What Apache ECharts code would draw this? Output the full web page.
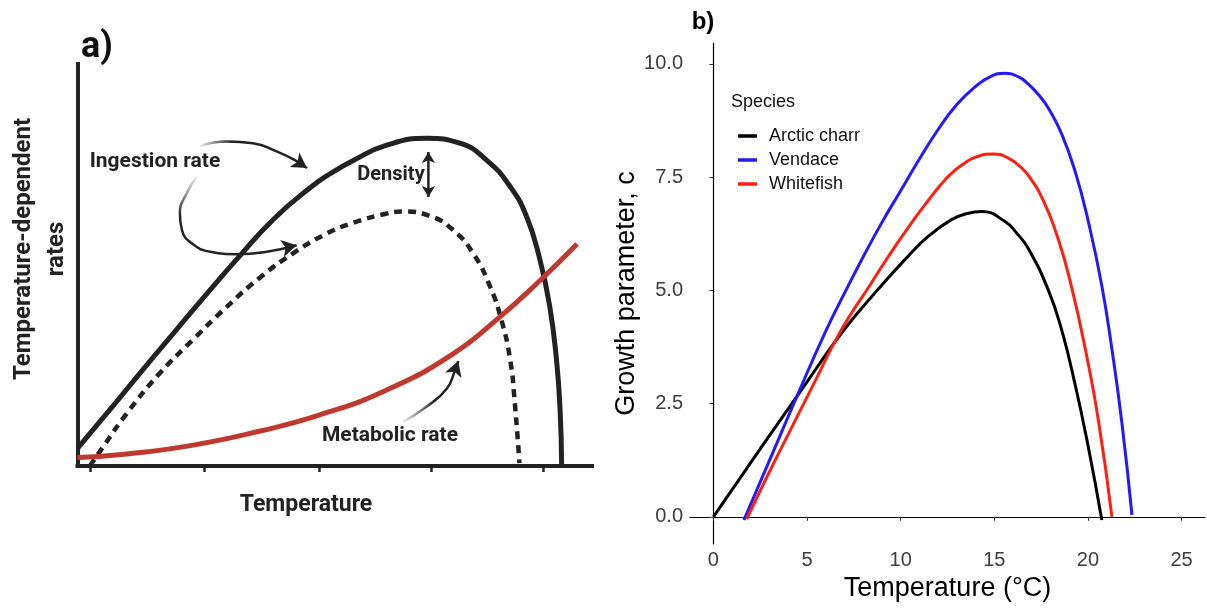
<!DOCTYPE html>
<html><head><meta charset="utf-8">
<script src="https://cdn.jsdelivr.net/npm/echarts@6/dist/echarts.min.js"></script>
<style>html,body{margin:0;padding:0;background:#fff}#c{width:1207px;height:609px}</style>
</head><body><div id="c"></div>
<script>
// ---------- Panel a: conceptual curves (arbitrary units 0-100) ----------
const ingestionX = [0, 6.3, 12.8, 19.3, 25.7, 31.5, 38.1, 45.2, 49.1, 53.6, 60.1, 67.9, 74.3, 79.5, 84.1, 87.3, 89.9, 91.8, 93.1, 93.8, 94.1];
const ingestionY = [4.4, 14.0, 24.1, 34.0, 43.7, 52.2, 61.4, 69.2, 72.7, 76.0, 79.8, 81.5, 80.3, 76.1, 69.5, 62.0, 51.2, 39.6, 26.4, 13.9, 0.3];
const densityX = [2.4, 5.0, 9.6, 16.0, 22.5, 29.0, 35.5, 41.9, 48.4, 53.6, 60.1, 63.3, 68.5, 73.0, 76.9, 80.2, 82.4, 84.1, 85.0, 85.9];
const densityY = [0, 4.8, 13.1, 23.1, 31.5, 39.6, 46.9, 52.9, 57.8, 60.5, 62.8, 63.3, 62.2, 58.7, 52.9, 44.6, 36.3, 26.4, 15.6, 0.7];
const metabolicX = [0, 9.6, 22.5, 35.5, 47.1, 60.1, 73.0, 82.1, 89.3, 97.1];
const metabolicY = [2.1, 3.0, 5.2, 8.7, 12.7, 18.9, 27.9, 37.1, 45.4, 55.2];
// annotation arrows (same units)
const arrow1X = [23.8, 29.1, 34.1, 38.8, 42.5, 44.6];
const arrow1Y = [79.6, 80.7, 80.3, 78.2, 75.9, 74.1];
const arrow2X = [23.2, 21.2, 19.9, 20.3, 22.2, 25.8, 30.9, 36.8, 42.6];
const arrow2Y = [72.0, 67.8, 62.9, 58.7, 55.4, 53.3, 52.7, 53.3, 54.9];
const arrow3X = [63.3, 67.9, 71.8, 73.4, 74.0];
const arrow3Y = [11.0, 14.8, 19.3, 23.9, 26.1];
const densArrowX = [68.2, 68.2];
const densArrowY = [78.1, 66.9];
const panelATicks = [2.5, 24.7, 46.9, 68.7, 90.6];

// ---------- Panel b: growth parameter vs temperature ----------
const charrT = [0, 1, 2, 3, 4.46, 5.5, 6.45, 7.5, 8.77, 10.39, 11.5, 12.71, 13.5, 14.32, 15.57, 16.2, 16.82, 17.89, 18.6, 19.32, 20.03, 20.74];
const charrC = [0, 0.6, 1.2, 1.8, 2.66, 3.28, 3.84, 4.4, 5.01, 5.75, 6.2, 6.56, 6.69, 6.74, 6.52, 6.26, 5.92, 5.0, 4.12, 2.91, 1.52, -0.07];
const vendaceT = [1.63, 3, 4.46, 6, 7.09, 8, 9, 10, 11, 12, 13, 14, 14.8, 15.57, 16.3, 16.82, 17.4, 17.89, 18.6, 19.32, 20.03, 20.74, 21.28, 21.82, 22.35];
const vendaceC = [-0.07, 1.25, 2.66, 4.1, 5.01, 5.74, 6.5, 7.2, 7.9, 8.55, 9.1, 9.5, 9.72, 9.79, 9.71, 9.55, 9.3, 9.02, 8.45, 7.62, 6.5, 5.1, 3.7, 2.05, 0.04];
const whitefishT = [1.78, 3, 4.46, 5.5, 6.45, 7.3, 8.23, 9.3, 10.39, 11.5, 12.14, 12.71, 13.25, 14.0, 14.94, 15.7, 16.46, 17.0, 17.53, 18.42, 19.14, 19.85, 20.57, 21.28];
const whitefishC = [-0.05, 1.0, 2.2, 3.05, 3.84, 4.45, 5.03, 5.72, 6.38, 7.0, 7.33, 7.58, 7.76, 7.94, 8.01, 7.93, 7.70, 7.43, 7.06, 6.12, 5.05, 3.72, 2.10, 0.0];
const speciesNames = ['Arctic charr', 'Vendace', 'Whitefish'];
const speciesColors = ['#000000', '#2219ff', '#ff1e10'];
const bTicksX = [0, 5, 10, 15, 20, 25];
const bTicksY = [0, 2.5, 5, 7.5, 10];

const zip = (xs, ys) => xs.map((x, i) => [x, ys[i]]);
const DARK = '#222222';
const SMOOTH = 0.5;
const chart = echarts.init(document.getElementById('c'));

function fade(x, y, x2, y2, stop) {
  return {type: 'linear', x: x, y: y, x2: x2, y2: y2, colorStops: [
    {offset: 0, color: 'rgba(34,34,34,0)'}, {offset: stop, color: DARK}, {offset: 1, color: DARK}]};
}
function arrowData(xs, ys, rot) {
  return xs.map((x, i) => i === xs.length - 1
    ? {value: [x, ys[i]], symbol: 'arrow', symbolSize: [13, 15], symbolRotate: rot || 0}
    : {value: [x, ys[i]], symbol: 'none'});
}
function densData(r0, r1) {
  return [
    {value: [densArrowX[0], densArrowY[0]], symbol: 'arrow', symbolSize: [10, 11], symbolRotate: r0},
    {value: [densArrowX[1], densArrowY[1]], symbol: 'arrow', symbolSize: [10, 11], symbolRotate: r1}
  ];
}

const aAxisLine = {show: true, lineStyle: {color: DARK, width: 4, cap: 'square'}};
const bFont = 'Liberation Sans';

const option = {
  animation: false,
  backgroundColor: '#ffffff',
  grid: [
    {left: 77.5, right: 615, top: 64, bottom: 143, outerBoundsMode: 'none'},
    {left: 690, right: 2, top: 43, bottom: 65, outerBoundsMode: 'none'}
  ],
  xAxis: [
    {gridIndex: 0, type: 'value', min: 0, max: 100, splitLine: {show: false},
     axisLine: aAxisLine,
     axisTick: {show: true, customValues: panelATicks, length: 6, lineStyle: {color: DARK, width: 2.5}},
     axisLabel: {show: false}},
    {gridIndex: 1, type: 'value', min: -1.25, max: 26.25, splitLine: {show: false},
     axisLine: {show: true, lineStyle: {color: '#000', width: 1.2}},
     axisTick: {show: true, customValues: bTicksX, length: 4, lineStyle: {color: '#333', width: 1}},
     axisLabel: {customValues: bTicksX, fontSize: 20, color: '#3d3d3d', fontFamily: bFont, margin: 6},
     name: 'Temperature (°C)', nameLocation: 'middle', nameGap: 27,
     nameTextStyle: {fontSize: 27, color: '#000', fontFamily: bFont}}
  ],
  yAxis: [
    {gridIndex: 0, type: 'value', min: 0, max: 100, splitLine: {show: false},
     axisLine: aAxisLine, axisTick: {show: false}, axisLabel: {show: false}},
    {gridIndex: 1, type: 'value', min: -0.6, max: 10.46, splitLine: {show: false},
     axisLine: {show: true, lineStyle: {color: '#000', width: 1.2}},
     axisTick: {show: true, customValues: bTicksY, length: 4, lineStyle: {color: '#333', width: 1}},
     axisLabel: {customValues: bTicksY, fontSize: 20, color: '#3d3d3d', fontFamily: bFont, margin: 7,
       formatter: v => Number(v).toFixed(1)},
     name: 'Growth parameter, c', nameLocation: 'middle', nameGap: 50, nameRotate: 90,
     nameTextStyle: {fontSize: 27, color: '#000', fontFamily: bFont}}
  ],
  legend: {
    data: speciesNames, orient: 'vertical', left: 733, top: 121, icon: 'rect',
    itemWidth: 19, itemHeight: 3.5, itemGap: 4,
    textStyle: {fontSize: 18, color: '#111', fontFamily: bFont, lineHeight: 20, padding: [0, 0, 0, 7]}
  },
  graphic: [
    {type: 'text', x: 97, y: 48, style: {text: 'a)', fontSize: 36, fontWeight: 'bold', fontFamily: 'Roboto', fill: '#111', align: 'center', verticalAlign: 'middle'}},
    {type: 'text', x: 703, y: 22, style: {text: 'b)', fontSize: 24, fontWeight: 'bold', fontFamily: bFont, fill: '#000', align: 'center', verticalAlign: 'middle'}},
    {type: 'text', x: 155, y: 162, style: {text: 'Ingestion rate', fontSize: 21, fontWeight: 'bold', fontFamily: 'Roboto', fill: DARK, align: 'center', verticalAlign: 'middle'}},
    {type: 'text', x: 391, y: 175, style: {text: 'Density', fontSize: 20, fontWeight: 'bold', fontFamily: 'Roboto', fill: DARK, align: 'center', verticalAlign: 'middle'}},
    {type: 'text', x: 390, y: 436, style: {text: 'Metabolic rate', fontSize: 21, fontWeight: 'bold', fontFamily: 'Roboto', fill: DARK, align: 'center', verticalAlign: 'middle'}},
    {type: 'text', x: 306, y: 505, style: {text: 'Temperature', fontSize: 23, fontWeight: 'bold', fontFamily: 'Roboto', fill: DARK, align: 'center', verticalAlign: 'middle'}},
    {type: 'text', x: 40, y: 249, rotation: Math.PI / 2, style: {text: 'Temperature-dependent\nrates', fontSize: 24, lineHeight: 33, fontWeight: 'bold', fontFamily: 'Roboto', fill: DARK, align: 'center', verticalAlign: 'middle'}},
    {type: 'text', x: 731, y: 102, style: {text: 'Species', fontSize: 18, fontFamily: bFont, fill: '#111', align: 'left', verticalAlign: 'middle'}}
  ],
  series: [
    {id: 'ing', type: 'line', xAxisIndex: 0, yAxisIndex: 0, data: zip(ingestionX, ingestionY), smooth: SMOOTH, symbol: 'none', lineStyle: {color: DARK, width: 5}, z: 3},
    {id: 'dens', type: 'line', xAxisIndex: 0, yAxisIndex: 0, data: zip(densityX, densityY), smooth: SMOOTH, symbol: 'none', lineStyle: {color: DARK, width: 4.5, type: [8, 6]}, z: 3},
    {id: 'met', type: 'line', xAxisIndex: 0, yAxisIndex: 0, data: zip(metabolicX, metabolicY), smooth: SMOOTH, symbol: 'none', lineStyle: {color: '#c0392f', width: 5}, z: 4},
    {id: 'arr1', type: 'line', xAxisIndex: 0, yAxisIndex: 0, data: arrowData(arrow1X, arrow1Y), smooth: 0.5, showSymbol: true, itemStyle: {color: DARK, borderWidth: 0}, lineStyle: {color: fade(0, 0, 1, 0, 0.3), width: 2.5}, z: 5},
    {id: 'arr2', type: 'line', xAxisIndex: 0, yAxisIndex: 0, data: arrowData(arrow2X, arrow2Y), smooth: 0.5, showSymbol: true, itemStyle: {color: DARK, borderWidth: 0}, lineStyle: {color: fade(0, 0, 0, 1, 0.5), width: 2.5}, z: 5},
    {id: 'arr3', type: 'line', xAxisIndex: 0, yAxisIndex: 0, data: arrowData(arrow3X, arrow3Y), smooth: 0.5, showSymbol: true, itemStyle: {color: DARK, borderWidth: 0}, lineStyle: {color: fade(0, 1, 1, 0, 0.45), width: 2.5}, z: 5},
    {id: 'darr', type: 'line', xAxisIndex: 0, yAxisIndex: 0, data: densData(0, 180), showSymbol: true, itemStyle: {color: DARK, borderWidth: 0}, lineStyle: {color: DARK, width: 2.5}, z: 5},
    {name: speciesNames[0], type: 'line', xAxisIndex: 1, yAxisIndex: 1, data: zip(charrT, charrC), smooth: SMOOTH, symbol: 'none', lineStyle: {color: speciesColors[0], width: 3}, itemStyle: {color: speciesColors[0]}},
    {name: speciesNames[1], type: 'line', xAxisIndex: 1, yAxisIndex: 1, data: zip(vendaceT, vendaceC), smooth: SMOOTH, symbol: 'none', lineStyle: {color: speciesColors[1], width: 3}, itemStyle: {color: speciesColors[1]}},
    {name: speciesNames[2], type: 'line', xAxisIndex: 1, yAxisIndex: 1, data: zip(whitefishT, whitefishC), smooth: SMOOTH, symbol: 'none', lineStyle: {color: speciesColors[2], width: 3}, itemStyle: {color: speciesColors[2]}}
  ]
};
chart.setOption(option);

// orient arrowheads along the final segment of each arrow path
function endRotation(xs, ys) {
  const n = xs.length;
  const a = chart.convertToPixel({gridIndex: 0}, [xs[n - 2], ys[n - 2]]);
  const b = chart.convertToPixel({gridIndex: 0}, [xs[n - 1], ys[n - 1]]);
  const ang = Math.atan2(-(b[1] - a[1]), b[0] - a[0]) * 180 / Math.PI;
  return ang - 90;
}
chart.setOption({series: [
  {id: 'arr1', data: arrowData(arrow1X, arrow1Y, endRotation(arrow1X, arrow1Y))},
  {id: 'arr2', data: arrowData(arrow2X, arrow2Y, endRotation(arrow2X, arrow2Y))},
  {id: 'arr3', data: arrowData(arrow3X, arrow3Y, endRotation(arrow3X, arrow3Y))}
]});
</script>
</body></html>
